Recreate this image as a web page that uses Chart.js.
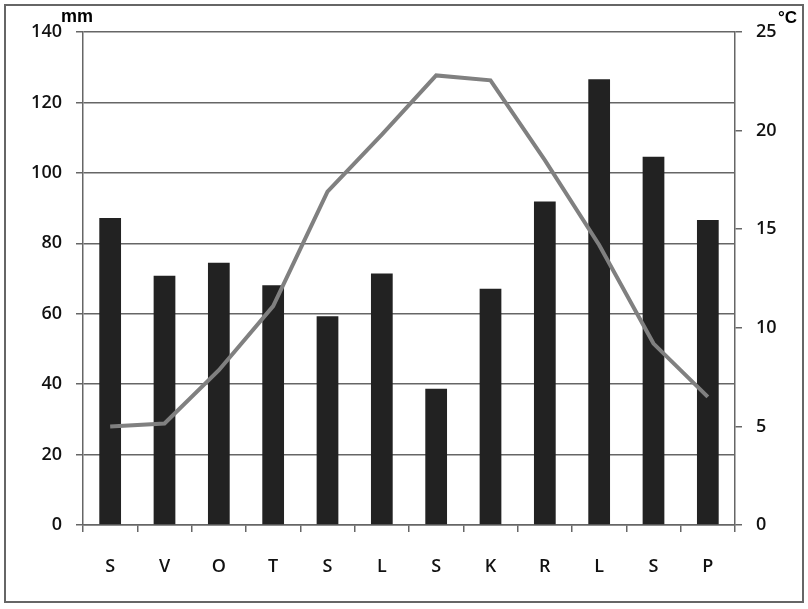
<!DOCTYPE html>
<html>
<head>
<meta charset="utf-8">
<script src="https://cdn.jsdelivr.net/npm/chart.js@4.4.0/dist/chart.umd.min.js"></script>
<style>
  html, body { margin: 0; padding: 0; background: #fff; }
  #wrap { position: relative; width: 808px; height: 609px; }
</style>
</head>
<body>
<div id="wrap"><canvas id="c" width="808" height="609"></canvas></div>
<script>
const categories = ['S', 'V', 'O', 'T', 'S', 'L', 'S', 'K', 'R', 'L', 'S', 'P'];
const precipitation = [87.2, 70.8, 74.5, 68.1, 59.3, 71.4, 38.7, 67.1, 91.9, 126.6, 104.6, 86.6];
const temperature = [5.0, 5.15, 7.85, 11.1, 16.9, 19.8, 22.8, 22.55, 18.5, 14.2, 9.2, 6.5];
const leftTicks = [0, 20, 40, 60, 80, 100, 120, 140];
const rightTicks = [0, 5, 10, 15, 20, 25];
const leftUnit = 'mm';
const rightUnit = '°C';

const gridColor = '#666666';
const textColor = '#111111';
const tickFont = { family: 'Open Sans', size: 18, weight: '600' };

const decor = {
  id: 'decor',
  beforeDraw(chart) {
    const ctx = chart.ctx;
    ctx.save();
    ctx.fillStyle = '#fff';
    ctx.fillRect(0, 0, chart.width, chart.height);
    ctx.restore();
  },
  afterDraw(chart) {
    const ctx = chart.ctx;
    ctx.save();
    ctx.strokeStyle = '#666';
    ctx.lineWidth = 2;
    ctx.strokeRect(5, 5, 798, 597);
    ctx.fillStyle = '#000';
    ctx.font = 'bold 18px "Liberation Sans"';
    ctx.textBaseline = 'alphabetic';
    ctx.textAlign = 'left';
    ctx.fillText(leftUnit, 61, 22);
    ctx.font = 'bold 17px "Liberation Sans"';
    ctx.fillText(rightUnit, 778, 23);
    ctx.restore();
  }
};

new Chart(document.getElementById('c'), {
  data: {
    labels: categories,
    datasets: [
      {
        type: 'line',
        label: 'Temperatura',
        data: temperature,
        yAxisID: 'y1',
        borderColor: '#808080',
        borderWidth: 4,
        pointRadius: 0,
        tension: 0,
        fill: false,
        order: 0
      },
      {
        type: 'bar',
        label: 'Oborine',
        data: precipitation,
        yAxisID: 'y',
        backgroundColor: '#222222',
        borderWidth: 0,
        categoryPercentage: 1,
        barPercentage: 0.4,
        order: 1
      }
    ]
  },
  plugins: [decor],
  options: {
    responsive: false,
    animation: false,
    devicePixelRatio: 1,
    layout: { padding: { top: 32, left: 0, right: 0, bottom: 0 } },
    plugins: { legend: { display: false }, tooltip: { enabled: false } },
    scales: {
      x: {
        offset: true,
        grid: { display: true, drawOnChartArea: false, drawTicks: true, tickLength: 7, color: gridColor, lineWidth: 1.5, offset: true },
        border: { display: true, color: gridColor, width: 1.5 },
        ticks: { color: textColor, font: tickFont, padding: 24, maxRotation: 0 },
        afterFit(scale) { scale.height = 84; }
      },
      y: {
        position: 'left',
        min: 0, max: 140,
        afterBuildTicks(scale) { scale.ticks = leftTicks.map(v => ({ value: v })); },
        grid: { color: gridColor, lineWidth: 1.5, tickLength: 7, drawTicks: true },
        border: { display: true, color: gridColor, width: 1.5 },
        ticks: { color: textColor, font: tickFont, padding: 14 },
        afterFit(scale) { scale.width = 83; }
      },
      y1: {
        position: 'right',
        min: 0, max: 25,
        afterBuildTicks(scale) { scale.ticks = rightTicks.map(v => ({ value: v })); },
        grid: { drawOnChartArea: false, color: gridColor, lineWidth: 1.5, tickLength: 7, drawTicks: true },
        border: { display: true, color: gridColor, width: 1.5 },
        ticks: { color: textColor, font: tickFont, padding: 14 },
        afterFit(scale) { scale.width = 73; }
      }
    }
  }
});
</script>
</body>
</html>
